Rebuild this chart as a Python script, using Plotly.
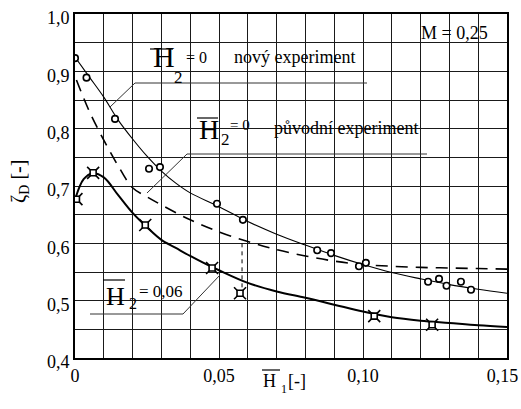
import plotly.graph_objects as go

# ---------------- data ----------------
new_pts_x = [0.0, 0.0040, 0.0139, 0.0257, 0.0295, 0.0493, 0.0583, 0.0841, 0.0889, 0.0986, 0.1010,
             0.1226, 0.1264, 0.1290, 0.1340, 0.1375]
new_pts_y = [0.923, 0.889, 0.817, 0.730, 0.733, 0.669, 0.641, 0.588, 0.583, 0.560, 0.566,
             0.533, 0.538, 0.526, 0.533, 0.519]
new_curve_x = [0, 0.005, 0.01, 0.015, 0.02, 0.025, 0.03, 0.035, 0.04, 0.05, 0.06, 0.07, 0.08,
               0.09, 0.10, 0.11, 0.12, 0.13, 0.14, 0.15]
new_curve_y = [0.925, 0.89, 0.855, 0.815, 0.782, 0.752, 0.726, 0.705, 0.688, 0.664, 0.638, 0.616,
               0.597, 0.579, 0.563, 0.549, 0.538, 0.528, 0.520, 0.513]
orig_curve_x = [0.0005, 0.005, 0.01, 0.015, 0.02, 0.025, 0.03, 0.04, 0.05, 0.06, 0.07, 0.08,
                0.09, 0.10, 0.11, 0.12, 0.13, 0.14, 0.15]
orig_curve_y = [0.885, 0.83, 0.78, 0.735, 0.697, 0.681, 0.667, 0.641, 0.62, 0.603, 0.589, 0.578,
                0.569, 0.563, 0.56, 0.558, 0.557, 0.556, 0.555]
h06_pts_x = [0.0005, 0.0063, 0.0244, 0.0476, 0.0573, 0.1039, 0.1240]
h06_pts_y = [0.677, 0.723, 0.632, 0.557, 0.513, 0.473, 0.458]
h06_curve_x = [0, 0.003, 0.006, 0.01, 0.015, 0.02, 0.025, 0.03, 0.035, 0.04, 0.045, 0.05, 0.06,
               0.07, 0.08, 0.09, 0.10, 0.11, 0.12, 0.13, 0.14, 0.15]
h06_curve_y = [0.676, 0.712, 0.722, 0.715, 0.684, 0.653, 0.628, 0.606, 0.592, 0.578, 0.565, 0.553,
               0.531, 0.516, 0.505, 0.493, 0.481, 0.471, 0.465, 0.461, 0.457, 0.454]
marker_line_x = [0.058, 0.058]
marker_line_y = [0.60, 0.52]

x_tick_vals = [0, 0.05, 0.10, 0.15]
x_tick_text = ["0", "0,05", "0,10", "0,15\u00a0\u00a0"]
y_tick_vals = [0.4, 0.5, 0.6, 0.7, 0.8, 0.9, 1.0]
y_tick_text = ["0,4", "0,5", "0,6", "0,7", "0,8", "0,9", "1,0"]

FONT = "Liberation Serif"
W, H = 521, 409
L, R, T, B = 75, 507, 14, 358


def P(px, py):
    return (px - L) / (R - L), (B - py) / (B - T)


fig = go.Figure()

fig.add_trace(go.Scatter(x=new_curve_x, y=new_curve_y, mode="lines", line=dict(color="black", width=1.1, shape="spline"),
                         showlegend=False))
fig.add_trace(go.Scatter(x=orig_curve_x, y=orig_curve_y, mode="lines",
                         line=dict(color="black", width=1.6, dash="12px,8px", shape="spline"), showlegend=False))
fig.add_trace(go.Scatter(x=h06_curve_x, y=h06_curve_y, mode="lines", line=dict(color="black", width=2, shape="spline"),
                         showlegend=False))
fig.add_trace(go.Scatter(x=marker_line_x, y=marker_line_y, mode="lines",
                         line=dict(color="black", width=1, dash="4px,4px"), showlegend=False))
fig.add_trace(go.Scatter(x=new_pts_x, y=new_pts_y, mode="markers",
                         marker=dict(symbol="circle", size=6.5, color="white", line=dict(color="black", width=1.6)),
                         showlegend=False))
fig.add_trace(go.Scatter(x=h06_pts_x, y=h06_pts_y, mode="markers",
                         marker=dict(symbol="x-thin-open", size=12, color="black", line=dict(color="black", width=1.6)),
                         showlegend=False))
fig.add_trace(go.Scatter(x=h06_pts_x, y=h06_pts_y, mode="markers",
                         marker=dict(symbol="square", size=6, color="white", line=dict(color="black", width=1.6)),
                         showlegend=False))

shapes = []
# white masks behind labels (cover the grid)
for (x0, y0, x1, y1) in [(117, 44, 378, 93), (170, 112, 438, 172), (76, 275, 214, 325), (412, 27, 495, 55)]:
    a0, b0 = P(x0, y1)
    a1, b1 = P(x1, y0)
    shapes.append(dict(type="rect", xref="paper", yref="paper", x0=a0, y0=b0, x1=a1, y1=b1,
                       fillcolor="white", line=dict(width=0), layer="between"))
# underlines and leaders
for (x0, y0, x1, y1) in [(135, 83, 367, 83), (135, 83, 110, 107),
                         (187, 154, 427, 154), (187, 154, 147, 193),
                         (90, 314, 183, 314), (183, 314, 220, 275)]:
    a0, b0 = P(x0, y0)
    a1, b1 = P(x1, y1)
    shapes.append(dict(type="line", xref="paper", yref="paper", x0=a0, y0=b0, x1=a1, y1=b1,
                       line=dict(color="#333", width=1), layer="above"))
# overlines over H
for (x0, x1, y) in [(150, 173, 49), (197, 218, 118), (103, 125, 280), (262, 280, 370)]:
    a0, b0 = P(x0, y)
    a1, b1 = P(x1, y)
    shapes.append(dict(type="line", xref="paper", yref="paper", x0=a0, y0=b0, x1=a1, y1=b1,
                       line=dict(color="black", width=1.2), layer="above"))

annotations = []


def txt(text, px, baseline, fs):
    xx, yy = P(px, baseline - 0.3375 * fs)
    annotations.append(dict(text=text, x=xx, y=yy, xref="paper", yref="paper", xanchor="left",
                            yanchor="middle", showarrow=False, borderpad=0,
                            font=dict(family=FONT, size=fs, color="black")))


# label 1
txt("H", 152, 67, 30)
txt("2", 173, 83, 17)
txt("= 0", 185, 63, 16)
txt("nový experiment", 233, 63, 18)
# label 2
txt("H", 198, 139, 28)
txt("2", 220, 145, 17)
txt("= 0", 229, 130, 15)
txt("původní experiment", 273, 134, 18)
# label 3
txt("H", 105, 305, 26)
txt("2", 128, 309, 16)
txt("= 0,06", 138, 297, 17)
# M label
txt("M = 0,25", 420, 39, 18)
# x title
txt("H", 262, 387, 18)
txt("1", 280, 393, 12)
txt("[-]", 287, 387, 18)
# y title
yx, yy = P(19, 182)
annotations.append(dict(text="ζ<sub>D</sub> [-]", x=yx, y=yy, xref="paper", yref="paper",
                        xanchor="center", yanchor="middle", textangle=-90, showarrow=False,
                        font=dict(family=FONT, size=20, color="black")))

grid_color = "#1a1a1a"
fig.update_layout(
    width=W, height=H,
    margin=dict(l=L, r=W - R, t=T, b=H - B, autoexpand=False),
    paper_bgcolor="white", plot_bgcolor="white",
    font=dict(family=FONT, size=18, color="black"),
    shapes=shapes, annotations=annotations,
    xaxis=dict(range=[0, 0.150001], tickmode="array", tickvals=x_tick_vals, ticktext=x_tick_text,
               showgrid=True, gridcolor=grid_color, gridwidth=1, ticks="", ticklabeloverflow="allow",
               automargin=False,
               minor=dict(tickmode="linear", tick0=0, dtick=0.01, showgrid=True, gridcolor=grid_color, gridwidth=1),
               showline=True, linecolor="black", linewidth=2, mirror=True, zeroline=False,
               tickfont=dict(family=FONT, size=18, color="black")),
    yaxis=dict(range=[0.4, 1.0], tickmode="array", tickvals=y_tick_vals, ticktext=y_tick_text,
               showgrid=True, gridcolor=grid_color, gridwidth=1, ticks="", ticklabelshift=4,
               ticklabeloverflow="allow", automargin=False,
               minor=dict(tickmode="linear", tick0=0.4, dtick=0.05, showgrid=True, gridcolor=grid_color, gridwidth=1),
               showline=True, linecolor="black", linewidth=2, mirror=True, zeroline=False,
               tickfont=dict(family=FONT, size=18, color="black")),
)

fig.write_html("out.html")
